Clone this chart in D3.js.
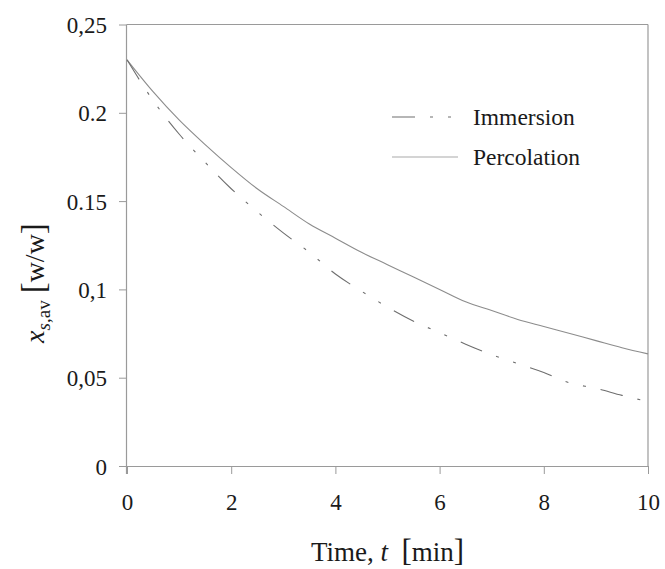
<!DOCTYPE html>
<html>
<head>
<meta charset="utf-8">
<script src="https://cdn.jsdelivr.net/npm/d3@7"></script>
<style>
  body { margin: 0; background: #fff; }
  text { font-family: "Liberation Serif", "Times New Roman", serif; fill: #1a1a1a; }
</style>
</head>
<body>
<div id="chart-area"></div>
<script>
// time points [min]
var times = [0, 0.5, 1, 1.5, 2, 2.5, 3, 3.5, 4, 4.5, 5, 5.5, 6, 6.5, 7, 7.5, 8, 8.5, 9, 9.5, 10];
// average solute fraction, immersion extraction
var immersion = [0.23, 0.207, 0.188, 0.172, 0.157, 0.144, 0.132, 0.121, 0.1087, 0.099, 0.090,
                 0.082, 0.0755, 0.069, 0.063, 0.058, 0.053, 0.047, 0.044, 0.040, 0.0365];
// average solute fraction, percolation extraction
var percolation = [0.23, 0.212, 0.196, 0.182, 0.169, 0.157, 0.147, 0.137, 0.129, 0.121, 0.114,
                   0.107, 0.100, 0.093, 0.088, 0.083, 0.079, 0.075, 0.071, 0.067, 0.0635];
var xTicks = [0, 2, 4, 6, 8, 10];
var yTicks = [0, 0.05, 0.1, 0.15, 0.2, 0.25];
var yTickLabels = ["0", "0,05", "0,1", "0.15", "0.2", "0,25"];
var seriesNames = ["Immersion", "Percolation"];

var W = 665, H = 569;
var plotLeft = 127, plotTop = 24.5, plotRight = 648, plotBottom = 466;

var svg = d3.select("#chart-area").append("svg")
            .attr("width", W)
            .attr("height", H);

var x = d3.scaleLinear()
          .domain([0, 10])
          .range([plotLeft, plotRight]);

var y = d3.scaleLinear()
          .domain([0, 0.25])
          .range([plotBottom, plotTop]);

var axisColor = "#9a9a9a";

// frame: top and right borders
svg.append("line")
   .attr("x1", plotLeft).attr("x2", plotRight)
   .attr("y1", y(0.25)).attr("y2", y(0.25))
   .attr("stroke", axisColor).attr("stroke-width", 1.2);
svg.append("line")
   .attr("x1", plotRight).attr("x2", plotRight)
   .attr("y1", y(0.25)).attr("y2", plotBottom)
   .attr("stroke", axisColor).attr("stroke-width", 1.2);

// x axis
var xAxis = svg.append("g")
   .attr("transform", "translate(0," + plotBottom + ")")
   .call(d3.axisBottom(x).tickValues(xTicks).tickSize(8).tickPadding(20).tickSizeOuter(0));

// y axis
var yAxis = svg.append("g")
   .attr("transform", "translate(" + plotLeft + ",0)")
   .call(d3.axisLeft(y).tickValues(yTicks).tickSize(8).tickPadding(12).tickSizeOuter(0)
           .tickFormat((d, i) => yTickLabels[i]));

[xAxis, yAxis].forEach((g) => {
  g.select(".domain").attr("stroke", axisColor).attr("stroke-width", 1.2);
  g.selectAll(".tick line").attr("stroke", axisColor).attr("stroke-width", 1);
  g.selectAll(".tick text")
   .attr("fill", "#1a1a1a")
   .style("font-family", '"Liberation Serif", serif')
   .style("font-size", "23px");
});
xAxis.select(".domain").attr("d", "M" + (plotLeft - 8) + ",0.5H" + plotRight);
yAxis.select(".domain").attr("d", "M-0.5," + (plotBottom + 8) + "V" + plotTop);
xAxis.selectAll(".tick text").attr("dy", "0.71em");
yAxis.selectAll(".tick text").attr("dy", "0.35em");

// curves
var line = d3.line()
             .x((d) => x(d[0]))
             .y((d) => y(d[1]))
             .curve(d3.curveMonotoneX);

var dashPattern = "23,15,3,15,3,15";

svg.append("path")
   .datum(times.map((t, i) => [t, percolation[i]]))
   .attr("d", line)
   .attr("fill", "none")
   .attr("stroke", "#8c8c8c")
   .attr("stroke-width", 1.1);

svg.append("path")
   .datum(times.map((t, i) => [t, immersion[i]]))
   .attr("d", line)
   .attr("fill", "none")
   .attr("stroke", "#6e6e6e")
   .attr("stroke-width", 1.1)
   .attr("stroke-dasharray", dashPattern);

// legend
var legend = svg.append("g");
var legendRows = legend.selectAll("g")
   .data(seriesNames)
   .enter()
   .append("g")
   .attr("transform", (d, i) => "translate(392," + (117 + i * 40) + ")");

legendRows.append("line")
   .attr("x1", 0).attr("x2", 66)
   .attr("y1", 0).attr("y2", 0)
   .attr("stroke", (d, i) => i === 0 ? "#6e6e6e" : "#aaaaaa")
   .attr("stroke-width", 1.1)
   .attr("stroke-dasharray", (d, i) => i === 0 ? dashPattern : null);

legendRows.append("text")
   .attr("x", 81)
   .attr("y", 0)
   .attr("dy", "0.33em")
   .style("font-size", "23.5px")
   .text((d) => d);

// x axis title
var xt = svg.append("text")
   .attr("x", (plotLeft + plotRight) / 2)
   .attr("y", 561)
   .attr("text-anchor", "middle")
   .style("font-size", "27px");
xt.append("tspan").text("Time, ");
xt.append("tspan").style("font-style", "italic").text("t");
xt.append("tspan").text("\u00a0 ");
xt.append("tspan").style("font-size", "31px").text("[");
xt.append("tspan").text("min");
xt.append("tspan").style("font-size", "31px").text("]");

// y axis title
var yt = svg.append("text")
   .attr("transform", "translate(44,283) rotate(-90)")
   .attr("text-anchor", "middle")
   .style("font-size", "28px");
yt.append("tspan").style("font-style", "italic").text("x");
yt.append("tspan").attr("dy", 6).style("font-size", "19px").style("font-style", "italic").text("s");
yt.append("tspan").style("font-size", "19px").text(",av");
yt.append("tspan").attr("dy", -6).text(" ");
yt.append("tspan").style("font-size", "33px").text("[");
yt.append("tspan").text("w/w");
yt.append("tspan").style("font-size", "33px").text("]");
</script>
</body>
</html>
